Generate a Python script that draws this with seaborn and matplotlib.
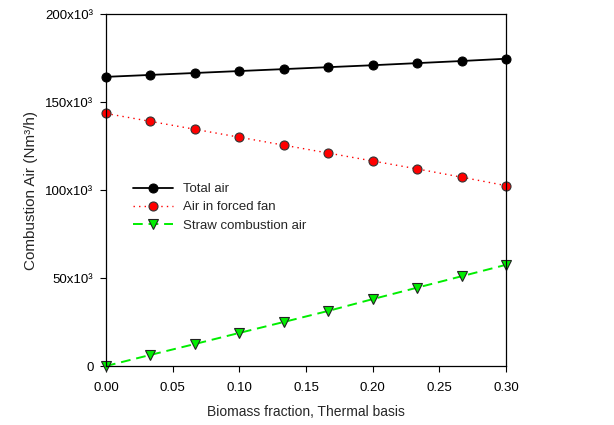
import numpy as np
import pandas as pd
import matplotlib
matplotlib.use("Agg")
import matplotlib.pyplot as plt
import seaborn as sns

# data
biomass_fraction = [0.0, 0.0333, 0.0667, 0.10, 0.1333, 0.1667, 0.20, 0.2333, 0.2667, 0.30]
total_air = [164300, 165400, 166500, 167600, 168700, 169800, 170900, 172100, 173300, 174600]
forced_fan_air = [143500, 139000, 134500, 130000, 125500, 121000, 116500, 112000, 107300, 102500]
straw_air = [0, 6300, 12500, 18800, 25000, 31300, 38000, 44500, 51000, 57500]

y_ticks = [0, 50000, 100000, 150000, 200000]
y_tick_labels = ["0", "50x10³", "100x10³", "150x10³", "200x10³"]
x_ticks = [0.00, 0.05, 0.10, 0.15, 0.20, 0.25, 0.30]

sns.set_style("ticks")
plt.rcParams['font.family'] = ['Liberation Sans', 'DejaVu Sans']

fig = plt.figure(figsize=(6.14, 4.25), dpi=100)
ax = fig.add_axes([0.1726, 0.1388, 0.6515, 0.8282])

green = "#00ee00"
sns.lineplot(x=biomass_fraction, y=total_air, ax=ax, color="black", linewidth=1.3,
             marker="o", markersize=6.5, markerfacecolor="black", markeredgecolor="black",
             label="Total air")
sns.lineplot(x=biomass_fraction, y=forced_fan_air, ax=ax, color="red", linewidth=1.0,
             linestyle=(0, (1, 3)), marker="o", markersize=6.5, markerfacecolor="red",
             markeredgecolor="#333333", markeredgewidth=0.8, label="Air in forced fan")
sns.lineplot(x=biomass_fraction, y=straw_air, ax=ax, color=green, linewidth=1.4,
             linestyle=(0, (5, 3)), marker="v", markersize=6.5, markerfacecolor=green,
             markeredgecolor="#222222", markeredgewidth=0.8, label="Straw combustion air")

ax.set_xlim(0, 0.30)
ax.set_ylim(0, 200000)
ax.set_xticks(x_ticks)
ax.set_xticklabels([f"{v:.2f}" for v in x_ticks])
ax.set_yticks(y_ticks)
ax.set_yticklabels(y_tick_labels)
ax.tick_params(direction="out", length=4, width=0.8, labelsize=9.5, colors="black")
ax.tick_params(axis="x", pad=7.5)
ax.tick_params(axis="y", pad=5)
for side in ["top", "right", "left", "bottom"]:
    ax.spines[side].set_linewidth(0.9)
    ax.spines[side].set_color("black")
for line in ax.lines:
    line.set_clip_on(False)

ax.set_xlabel("Biomass fraction, Thermal basis", fontsize=10, labelpad=8)
ax.set_ylabel("Combustion Air (Nm³/h)", fontsize=11, labelpad=5)

leg = ax.legend(loc="upper left", bbox_to_anchor=(0.055, 0.535), frameon=False, fontsize=9.5,
                handlelength=3.0, handletextpad=0.8, labelspacing=0.45, borderaxespad=0)

fig.savefig("out.png", dpi=100)
